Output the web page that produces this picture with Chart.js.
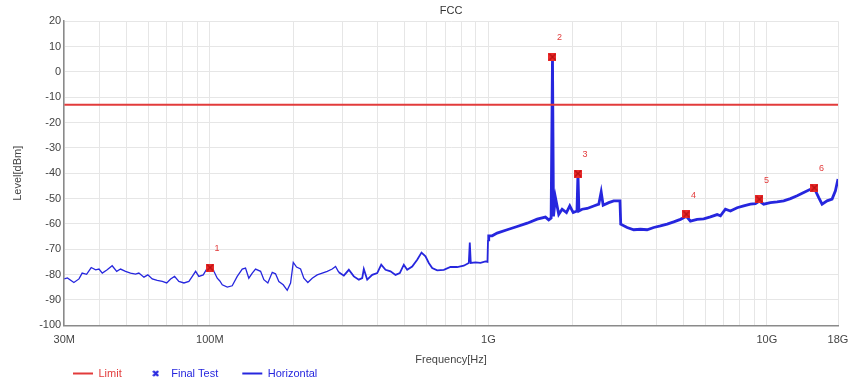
<!DOCTYPE html>
<html>
<head>
<meta charset="utf-8">
<script src="https://cdn.jsdelivr.net/npm/chart.js@4.4.1/dist/chart.umd.min.js"></script>
<style>
  html, body { margin: 0; padding: 0; background: #fff; }
</style>
</head>
<body>
<canvas id="fcc" width="850" height="383"></canvas>
<script>
// scan trace, frequency in MHz / level in dBm
var freqMHz = [30, 30.8, 32.5, 33.9, 34.8, 36.1, 37.5, 38.9, 40.0, 41.1,
  42.8, 44.6, 46.3, 47.8, 49.8, 51.9, 54.1, 55.6, 58.0, 59.9,
  62.1, 64.7, 67.5, 70.0, 72.3, 74.7, 77.4, 80.7, 84.1, 86.5,
  88.9, 91.3, 94.7, 97.9, 100.2, 102.0, 103.4, 106.3, 108.6, 110.8,
  115.5, 120.3, 125.4, 130.7, 134.3, 138.0, 142.0, 145.9, 152.1, 156.3,
  161.5, 167.5, 172.1, 176.9, 183.4, 189.6, 194.9, 199.3, 204.8, 211.7,
  217.5, 224.8, 233.1, 242.9, 253.2, 263.9, 275.0, 282.7, 290.4, 302.7,
  315.5, 328.8, 342.7, 352.4, 357.1, 367.3, 382.8, 399.0, 412.4, 427.3,
  445.3, 464.1, 480.8, 497.0, 511.1, 532.7, 555.2, 575.3, 594.6, 611.1,
  628.5, 655.0, 691.8, 731.1, 772.7, 816.0, 850.6, 857.6, 864.7, 898.9,
  936.8, 976.3, 992.6, 997, 1003, 1032, 1075, 1168, 1269, 1379,
  1497, 1603, 1647, 1680, 1699, 1713, 1741, 1789, 1840, 1907,
  1960, 2016, 2080, 2097, 2114, 2171, 2263, 2389, 2491, 2541,
  2583, 2705, 2819, 2968, 2987, 3149, 3326, 3515, 3715, 3923,
  4146, 4383, 4629, 4892, 5141, 5313, 5616, 5931, 6270, 6626,
  6810, 7096, 7396, 7817, 8255, 8726, 9093, 9399, 9739, 10290,
  10880, 11490, 12150, 12840, 13560, 14330, 14810, 15350, 15780, 16450,
  17140, 17620, 18000];
var levelDbm = [-81.7, -81.3, -83.1, -81.7, -79.4, -79.9, -77.2, -78.1, -77.8, -79.4,
  -78.1, -76.5, -78.7, -77.8, -78.7, -79.4, -79.8, -79.4, -81.0, -80.1,
  -81.7, -82.3, -82.7, -83.3, -81.7, -80.7, -82.7, -83.3, -82.7, -80.7,
  -78.7, -80.7, -80.1, -77.4, -77.2, -77.0, -78.7, -81.4, -82.5, -84.0,
  -84.9, -84.4, -80.7, -77.8, -77.4, -81.4, -79.4, -77.8, -78.7, -82.0,
  -83.3, -79.1, -79.7, -82.7, -84.0, -86.2, -83.3, -75.2, -77.0, -77.8,
  -81.4, -83.1, -81.4, -80.1, -79.4, -78.7, -77.8, -76.8, -79.1, -80.4,
  -78.1, -80.7, -82.0, -81.4, -77.8, -82.0, -80.1, -79.4, -76.1, -78.1,
  -78.7, -80.1, -79.4, -76.1, -78.1, -76.8, -74.1, -71.3, -72.8, -75.4,
  -77.4, -78.3, -78.1, -77.0, -77.0, -76.5, -75.4, -67.3, -75.4, -75.2,
  -75.4, -74.8, -75.0, -66.3, -64.7, -64.7, -63.6, -62.3, -61.0, -59.7,
  -58.1, -57.3, -58.4, -57.7, 5.9, -57.0, -49.6, -56.2, -54.2, -55.5,
  -52.9, -55.5, -54.9, -40.1, -54.9, -54.2, -53.9, -52.9, -52.2, -47.4,
  -52.6, -51.6, -50.9, -50.9, -60.1, -61.4, -62.3, -62.1, -62.3, -61.4,
  -60.8, -60.1, -59.2, -58.2, -57.0, -58.9, -58.2, -58.0, -57.2, -56.3,
  -56.8, -54.2, -54.9, -53.6, -52.9, -52.2, -52.0, -51.0, -52.2, -51.6,
  -51.3, -50.9, -50.0, -48.9, -47.6, -46.3, -46.0, -49.6, -52.2, -50.9,
  -50.2, -46.9, -42.3];

// final test markers
var markerFreqMHz = [100.2, 1699, 2097, 5141, 9399, 14810];
var markerLevel = [-77.2, 5.9, -40.1, -56.2, -50.3, -45.7];
var markerNames = ['1', '2', '3', '4', '5', '6'];

// limit line
var limitFreqMHz = [30, 18000];
var limitLevel = [-13, -13];

// x grid and labels
var gridFreqMHz = [30, 40, 50, 60, 70, 80, 90, 100, 200, 300, 400, 500, 600, 700, 800, 900,
  1000, 2000, 3000, 4000, 5000, 6000, 7000, 8000, 9000, 10000, 18000];
var tickFreqMHz = [30, 100, 1000, 10000, 18000];
var tickLabels = ['30M', '100M', '1G', '10G', '18G'];

var toPoints = function(xs, ys) {
	return xs.map(function(x, i) { return { x: x, y: ys[i] }; });
};

var makeIcon = function(size, fill, cross, crossWidth) {
	var c = document.createElement('canvas');
	c.width = size;
	c.height = size;
	var g = c.getContext('2d');
	if (fill) {
		g.fillStyle = fill;
		g.fillRect(0, 0, size, size);
	}
	g.strokeStyle = cross;
	g.lineWidth = crossWidth;
	g.beginPath();
	g.moveTo(1, 1); g.lineTo(size - 1, size - 1);
	g.moveTo(size - 1, 1); g.lineTo(1, size - 1);
	g.stroke();
	return c;
};

var markerIcon = makeIcon(8, '#ea2a2a', '#b81010', 1.2);
var legendIcon = makeIcon(7, null, '#2b2be0', 2.4);

var RED = '#e23b3b';
var BLUE = '#2626de';

// numbers above the final test points
var markerNumbers = {
	id: 'markerNumbers',
	afterDatasetsDraw: function(chart) {
		var meta = chart.getDatasetMeta(1);
		var ctx = chart.ctx;
		ctx.save();
		ctx.font = '9px "Liberation Sans", Arial, sans-serif';
		ctx.fillStyle = RED;
		ctx.textAlign = 'center';
		ctx.textBaseline = 'middle';
		meta.data.forEach(function(pt, i) {
			ctx.fillText(markerNames[i], pt.x + 7, pt.y - 19);
		});
		ctx.restore();
	}
};

// title centred on the plot, legend moved under the axis title
var placeBlocks = {
	id: 'placeBlocks',
	beforeLayout: function(chart) {
		chart.legend.options.labels.padding = 0;
	},
	afterLayout: function(chart) {
		var a = chart.chartArea;
		chart.titleBlock.left = a.left;
		chart.titleBlock.right = a.right;
		var lg = chart.legend;
		lg.options.labels.padding = 24;
		lg.left = 49;
		lg.top = 344;
	}
};

Chart.defaults.font.family = '"Liberation Sans", Arial, sans-serif';
Chart.defaults.font.size = 11;
Chart.defaults.color = '#444';

var config = {
	type: 'line',
	data: {
		datasets: [{
			label: 'Limit',
			data: toPoints(limitFreqMHz, limitLevel),
			borderColor: RED,
			backgroundColor: RED,
			borderWidth: 2,
			pointRadius: 0,
			order: 1
		}, {
			label: 'Final Test',
			data: toPoints(markerFreqMHz, markerLevel),
			showLine: false,
			pointStyle: markerIcon,
			pointRadius: 4,
			borderColor: RED,
			backgroundColor: RED,
			order: 0
		}, {
			label: 'Horizontal',
			data: toPoints(freqMHz, levelDbm),
			borderColor: BLUE,
			backgroundColor: BLUE,
			borderWidth: 1.3,
			pointRadius: 0,
			tension: 0,
			segment: {
				borderWidth: function(ctx) {
					var f = ctx.p0.parsed.x;
					return f >= 997 ? 2.8 : (f >= 290 ? 1.8 : 1.3);
				}
			},
			order: 2
		}]
	},
	options: {
		responsive: false,
		animation: false,
		layout: { padding: { left: 0, right: 12, top: 0, bottom: -7 } },
		plugins: {
			title: {
				display: true,
				text: 'FCC',
				color: '#333',
				font: { size: 11, weight: 'normal' },
				padding: { top: 4, bottom: 4 }
			},
			legend: {
				position: 'bottom',
				align: 'start',
				labels: {
					usePointStyle: true,
					pointStyleWidth: 20,
					font: { size: 11 },
					generateLabels: function(chart) {
						return [
							{ text: 'Limit', datasetIndex: 0, pointStyle: 'line', strokeStyle: RED, fillStyle: RED, lineWidth: 2, fontColor: RED },
							{ text: 'Final Test', datasetIndex: 1, pointStyle: legendIcon, strokeStyle: BLUE, fillStyle: BLUE, lineWidth: 0, fontColor: BLUE },
							{ text: 'Horizontal', datasetIndex: 2, pointStyle: 'line', strokeStyle: BLUE, fillStyle: BLUE, lineWidth: 2, fontColor: BLUE }
						];
					}
				}
			},
			tooltip: { enabled: false }
		},
		scales: {
			x: {
				type: 'logarithmic',
				min: 30,
				max: 18000,
				afterBuildTicks: function(scale) {
					scale.ticks = gridFreqMHz.map(function(v) { return { value: v }; });
				},
				afterFit: function(scale) {
					scale.paddingRight = 0;
				},
				ticks: {
					autoSkip: false,
					maxRotation: 0,
					padding: 8,
					color: '#444',
					callback: function(value) {
						var k = tickFreqMHz.indexOf(value);
						return k >= 0 ? tickLabels[k] : '';
					}
				},
				grid: { color: '#e6e6e6', drawTicks: false },
				border: { color: '#8a8a8a', width: 1.5 },
				title: {
					display: true,
					text: 'Frequency[Hz]',
					color: '#444',
					font: { size: 11, lineHeight: 1 },
					padding: { top: 0, bottom: 3.5 }
				}
			},
			y: {
				min: -100,
				max: 20,
				ticks: { stepSize: 10, padding: 3, color: '#444' },
				grid: { color: '#e6e6e6', drawTicks: false },
				border: { color: '#8a8a8a', width: 1.5 },
				title: {
					display: true,
					text: 'Level[dBm]',
					color: '#444',
					padding: { top: 11, bottom: 12 }
				}
			}
		}
	},
	plugins: [markerNumbers, placeBlocks]
};

var ctx = document.getElementById('fcc').getContext('2d');
window.fccChart = new Chart(ctx, config);
</script>
</body>
</html>
